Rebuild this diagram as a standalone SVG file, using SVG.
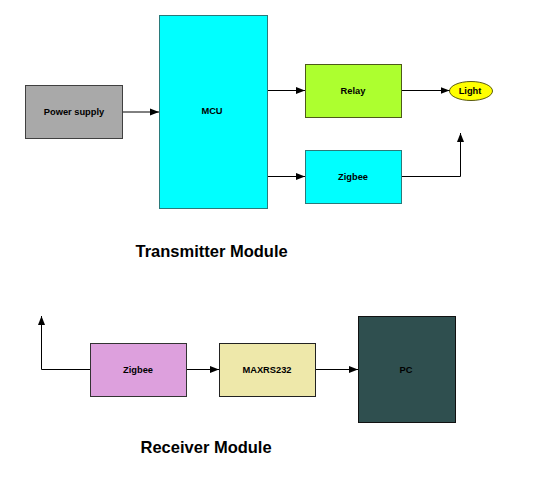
<svg xmlns="http://www.w3.org/2000/svg" width="533" height="483" viewBox="0 0 533 483">
<defs>
<marker id="ah" markerWidth="10" markerHeight="8" refX="9" refY="4" orient="auto" markerUnits="userSpaceOnUse">
<path d="M0,0.5 L9,4 L0,7.5 Z" fill="#000"/>
</marker>
<style>
.lbl{font-family:"Liberation Sans",Arial,sans-serif;font-size:9.3px;font-weight:bold;fill:#000;text-anchor:middle;dominant-baseline:central}
.title{font-family:"Liberation Sans",Arial,sans-serif;font-size:16.5px;font-weight:bold;fill:#000}
.c{fill:none;stroke:#000;stroke-width:1;marker-end:url(#ah)}
</style>
</defs>
<rect width="533" height="483" fill="#fff"/>
<g id="power">
<rect x="25.5" y="85.5" width="97" height="53" fill="#a9a9a9" stroke="#404040" stroke-width="1"/>
<text class="lbl" x="74" y="112">Power supply</text>
</g>
<g id="mcu">
<rect x="159.5" y="15.5" width="108" height="193" fill="#00ffff" stroke="#2a7a7a" stroke-width="1"/>
<text class="lbl" x="212" y="110.5">MCU</text>
</g>
<g id="relay">
<rect x="305.5" y="64.5" width="96" height="53" fill="#adff2f" stroke="#4d5a1a" stroke-width="1"/>
<text class="lbl" x="353" y="90.5">Relay</text>
</g>
<g id="zigbee-tx">
<rect x="305.5" y="150.5" width="96" height="53" fill="#00ffff" stroke="#2a7a7a" stroke-width="1"/>
<text class="lbl" x="353" y="176.5">Zigbee</text>
</g>
<g id="light">
<ellipse cx="471" cy="91" rx="21.5" ry="9.5" fill="#ffff00" stroke="#5a5a10" stroke-width="1"/>
<text class="lbl" x="470" y="91">Light</text>
</g>
<g id="zigbee-rx">
<rect x="90.5" y="343.5" width="96" height="53" fill="#dda0dd" stroke="#333" stroke-width="1"/>
<text class="lbl" x="138" y="369.5">Zigbee</text>
</g>
<g id="maxrs232">
<rect x="219.5" y="343.5" width="96" height="53" fill="#eee8aa" stroke="#222" stroke-width="1"/>
<text class="lbl" x="267" y="369.5">MAXRS232</text>
</g>
<g id="pc">
<rect x="358.5" y="316.5" width="97" height="106" fill="#2f4f4f" stroke="#111" stroke-width="1"/>
<text class="lbl" x="406" y="369.5">PC</text>
</g>
<g id="connectors">
<line class="c" x1="123" y1="112" x2="159" y2="112" stroke="#555"/>
<line class="c" x1="268" y1="90.5" x2="305" y2="90.5"/>
<line class="c" x1="268" y1="176.5" x2="305" y2="176.5"/>
<line class="c" x1="402" y1="90.5" x2="449.5" y2="90.5"/>
<polyline class="c" points="402,176.5 460.5,176.5 460.5,133"/>
<polyline class="c" points="90,369.5 41.5,369.5 41.5,316"/>
<line class="c" x1="187" y1="369.5" x2="219" y2="369.5"/>
<line class="c" x1="316" y1="369.5" x2="358" y2="369.5"/>
</g>
<text class="title" x="135.5" y="257">Transmitter Module</text>
<text class="title" x="140.5" y="453">Receiver Module</text>
</svg>
